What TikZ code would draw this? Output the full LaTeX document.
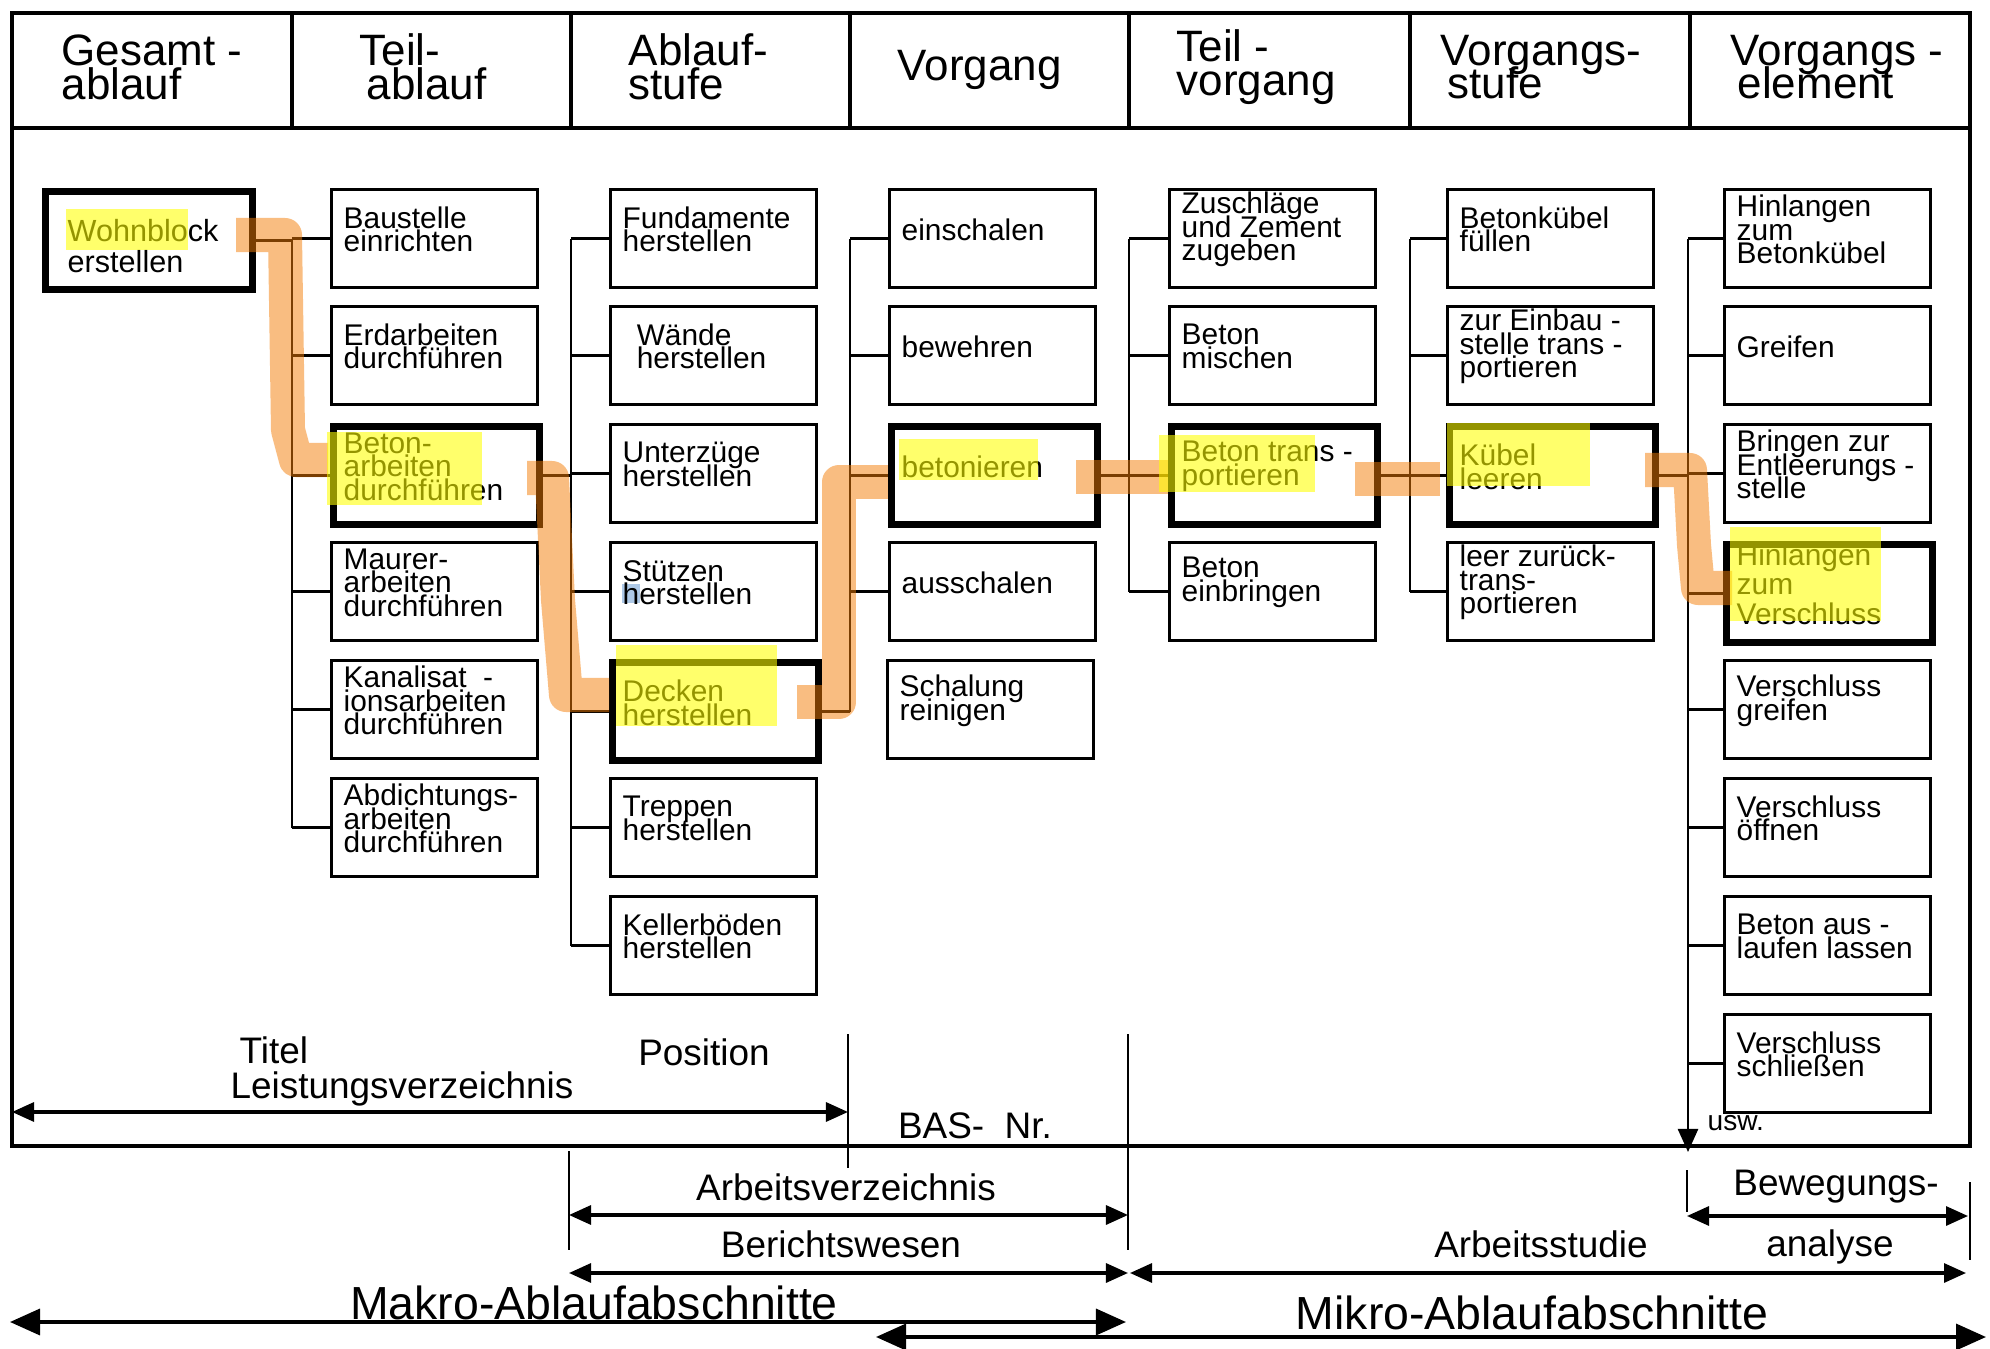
\documentclass[tikz,border=0pt]{standalone}
\usepackage{fontspec}
\setmainfont{Liberation Sans}
\usetikzlibrary{arrows.meta,calc}
\lineskiplimit=-100pt

\definecolor{routeorange}{RGB}{245,125,5}
\definecolor{hiyellow}{RGB}{255,255,0}
\definecolor{selblue}{RGB}{120,165,215}

% one task box with its left-aligned caption
\newcommand\taskbox[5][box]{%
  \node[#1] (#2) at (#3,#4) {};
  \node[btxt] (#2t) at ($(#2.west)+(13,-9)$) {#5};%
}

\begin{document}
\begin{tikzpicture}[x=0.01cm,y=-0.01cm,
  box/.style={draw,line width=0.85pt,minimum width=2.06cm,minimum height=0.98cm,inner sep=0pt,anchor=north west},
  keybox/.style={box,line width=2pt},
  btxt/.style={anchor=west,align=left,inner sep=0pt,font=\fontsize{8.5}{6.7}\selectfont},
  head/.style={anchor=west,align=left,inner sep=0pt,font=\fontsize{12.5}{9.6}\selectfont},
  lbl/.style={inner sep=0pt,font=\fontsize{10.5}{12}\selectfont},
  biglbl/.style={inner sep=0pt,font=\fontsize{13.2}{15}\selectfont},
  frameline/.style={line width=0.9pt},
  conn/.style={line width=0.7pt},
  ruleline/.style={line width=0.8pt},
  dimarrow/.style={line width=0.9pt,>={Triangle[length=2.2mm,width=1.9mm]},<->},
  bigarrow/.style={line width=1pt,>={Triangle[length=3mm,width=2.6mm]},<->},
  route/.style={draw=routeorange,line width=0.34cm,opacity=0.5,line join=round},
  hilite/.style={fill=hiyellow,opacity=0.58},
]
\fill[white] (0,0) rectangle (1990,1349);
\useasboundingbox (0,0) rectangle (1990,1349);

% ---------- frame and header row ----------
\draw[frameline] (12,13) rectangle (1970,1146);
\draw[frameline] (12,128) -- (1970,128);
\foreach \x in {292,571,850,1129,1410,1690}
  \draw[frameline] (\x,13) -- (\x,128);

\node[head] (h1) at (61,67) {Gesamt -\\ablauf};
\node[head] (h2) at (359,67) {Teil-\\\hspace{2pt}ablauf};
\node[head] (h3) at (628,67) {Ablauf-\\stufe};
\node[head] (h4) at (897,70) {Vorgang};
\node[head] (h5) at (1176,67) {Teil -\\vorgang};
\node[head] (h6) at (1440,67) {Vorgangs-\\\hspace{2pt}stufe};
\node[head] (h7) at (1730,67) {Vorgangs -\\\hspace{2pt}element};

% ---------- boxes ----------
\node[keybox,minimum width=2.07cm] (w) at (42,188) {};
\node[anchor=west,align=left,inner sep=0pt,font=\fontsize{8.7}{8.9}\selectfont] (wt) at (67,246) {Wohnblock\\erstellen};

\taskbox{a1}{330}{188}{Baustelle\\einrichten}
\taskbox{a2}{330}{305}{Erdarbeiten\\durchführen}
\taskbox[keybox]{a3}{330}{423}{Beton-\\arbeiten\\durchführen}
\taskbox{a4}{330}{541}{Maurer-\\arbeiten\\durchführen}
\taskbox{a5}{330}{659}{Kanalisat\ \ -\\ionsarbeiten\\durchführen}
\taskbox{a6}{330}{777}{Abdichtungs-\\arbeiten\\durchführen}

\fill[selblue,opacity=0.6] (622,584) rectangle (640,603);
\taskbox{b1}{609}{188}{Fundamente\\herstellen}
\taskbox{b2}{609}{305}{\hspace{4pt}Wände\\\hspace{4pt}herstellen}
\taskbox{b3}{609}{423}{Unterzüge\\herstellen}
\taskbox{b4}{609}{541}{Stützen\\herstellen}
\taskbox[keybox]{b5}{609}{659}{Decken\\herstellen}
\taskbox{b6}{609}{777}{Treppen\\herstellen}
\taskbox{b7}{609}{895}{Kellerböden\\herstellen}

\taskbox{c1}{888}{188}{einschalen}
\taskbox{c2}{888}{305}{bewehren}
\taskbox[keybox]{c3}{888}{423}{betonieren}
\taskbox{c4}{888}{541}{ausschalen}
\taskbox{c5}{886}{659}{Schalung\\reinigen}

\taskbox{d1}{1168}{188}{Zuschläge\\und Zement\\zugeben}
\taskbox{d2}{1168}{305}{Beton\\mischen}
\taskbox[keybox]{d3}{1168}{423}{Beton trans -\\portieren}
\taskbox{d4}{1168}{541}{Beton\\einbringen}

\taskbox{e1}{1446}{188}{Betonkübel\\füllen}
\taskbox{e2}{1446}{305}{zur Einbau -\\stelle trans -\\portieren}
\taskbox[keybox]{e3}{1446}{423}{Kübel\\leeren}
\taskbox{e4}{1446}{541}{leer zurück-\\trans-\\portieren}

\taskbox{f1}{1723}{188}{Hinlangen\\zum\\Betonkübel}
\taskbox{f2}{1723}{305}{Greifen}
\taskbox{f3}{1723}{423}{Bringen zur\\Entleerungs -\\stelle}
\taskbox[keybox]{f4}{1723}{541}{Hinlangen\\[1.5pt]zum\\[2pt]Verschluss}
\taskbox{f5}{1723}{659}{Verschluss\\greifen}
\taskbox{f6}{1723}{777}{Verschluss\\öffnen}
\taskbox{f7}{1723}{895}{Beton aus -\\laufen lassen}
\taskbox{f8}{1723}{1013}{Verschluss\\schließen}

% ---------- tree connectors ----------
\coordinate (bus1) at (292,0);
\coordinate (bus2) at (571,0);
\coordinate (bus3) at (850,0);
\coordinate (bus4) at (1129,0);
\coordinate (bus5) at (1410,0);
\coordinate (bus6) at (1688,0);
\coordinate (busend) at (1688,1152);

\draw[conn] (w.east) -- (w.east -| bus1);
\draw[conn] (a1.west -| bus1) -- (a6.west -| bus1);
\foreach \n in {a1,a2,a3,a4,a5,a6}
  \draw[conn] (\n.west -| bus1) -- (\n.west);

\draw[conn] (a3.east) -- (a3.east -| bus2);
\draw[conn] (b1.west -| bus2) -- (b7.west -| bus2);
\foreach \n in {b1,b2,b3,b4,b5,b6,b7}
  \draw[conn] (\n.west -| bus2) -- (\n.west);

\draw[conn] (b5.east) -- (b5.east -| bus3);
\draw[conn] (c1.west -| bus3) -- (b5.east -| bus3);
\foreach \n in {c1,c2,c3,c4}
  \draw[conn] (\n.west -| bus3) -- (\n.west);

\draw[conn] (c3.east) -- (c3.east -| bus4);
\draw[conn] (d1.west -| bus4) -- (d4.west -| bus4);
\foreach \n in {d1,d2,d3,d4}
  \draw[conn] (\n.west -| bus4) -- (\n.west);

\draw[conn] (d3.east) -- (d3.east -| bus5);
\draw[conn] (e1.west -| bus5) -- (e4.west -| bus5);
\foreach \n in {e1,e2,e3,e4}
  \draw[conn] (\n.west -| bus5) -- (\n.west);

\draw[conn] (e3.east) -- (e3.east -| bus6);
\draw[conn,-{Triangle[length=2.3mm,width=2mm]}] (f1.west -| bus6) -- (busend);
\foreach \n in {f1,f2,f3,f4,f5,f6,f7,f8}
  \draw[conn] (\n.west -| bus6) -- (\n.west);
\node[inner sep=0pt,anchor=west,font=\fontsize{8}{9}\selectfont] (usw) at (1707,1123) {usw.};

% ---------- ranges below the tree ----------
\coordinate (v1t) at (848,1034);  \coordinate (v1b) at (848,1168);
\coordinate (v2t) at (1128,1034); \coordinate (v2b) at (1128,1250);
\coordinate (v3t) at (569,1151);  \coordinate (v3b) at (569,1250);
\coordinate (v4t) at (1687,1170); \coordinate (v4b) at (1687,1212);
\coordinate (v5t) at (1970,1182); \coordinate (v5b) at (1970,1260);
\foreach \v in {v1,v2,v3,v4,v5}
  \draw[ruleline] (\v t) -- (\v b);

\coordinate (lvL) at (12,1112);
\draw[dimarrow] (lvL) -- (lvL -| v1t);
\coordinate (avL) at (569,1215);
\draw[dimarrow] (avL) -- (avL -| v2t);
\coordinate (bwL) at (569,1273);
\draw[dimarrow] (bwL) -- (bwL -| v2t);
\coordinate (asL) at (1130,1273); \coordinate (asR) at (1966,1273);
\draw[dimarrow] (asL) -- (asR);
\coordinate (baL) at (1687,1216); \coordinate (baR) at (1968,1216);
\draw[dimarrow] (baL) -- (baR);
\coordinate (maL) at (10,1322); \coordinate (maR) at (1126,1322);
\draw[bigarrow] (maL) -- (maR);
\coordinate (miL) at (876,1337); \coordinate (miR) at (1986,1337);
\draw[bigarrow] (miL) -- (miR);

\node[lbl,anchor=west] (titel) at (239,1050) {Titel};
\node[lbl] (pos) at (704,1052) {Position};
\node[lbl] (lv) at (402,1089) {Leistungsverzeichnis};
\node[lbl] (bas) at (975,1126) {BAS-\ \ Nr.};
\node[lbl] (av) at (846,1187) {Arbeitsverzeichnis};
\node[lbl] (bw) at (841,1244) {Berichtswesen};
\node[lbl] (as) at (1541,1244) {Arbeitsstudie};
\node[lbl] (bew) at (1836,1187) {Bewegungs-};
\node[lbl] (ana) at (1830,1247) {analyse};
\node[biglbl] (makro) at (594,1303) {Makro-Ablaufabschnitte};
\node[biglbl] (mikro) at (1532,1313) {Mikro-Ablaufabschnitte};

% ---------- marked route through the hierarchy ----------
\draw[route] (236,235) -- (285,235) -- (288,430) -- (296,460) -- (328,460);
\draw[route] (527,478) -- (552,478) -- (558,600) -- (566,695) -- (609,695);
\draw[route] (797,702) -- (839,702) -- (839,482) -- (888,482);
\draw[route] (1076,477) -- (1168,477);
\draw[route] (1355,479) -- (1440,479);
\draw[route] (1645,470) -- (1690,470) -- (1694,545) -- (1698,588) -- (1732,588);

% ---------- highlighted captions ----------
\fill[hilite] (66,209) rectangle (188,250);
\fill[hilite] (327,432) rectangle (482,505);
\fill[hilite] (616,645) rectangle (777,726);
\fill[hilite] (899,439) rectangle (1038,480);
\fill[hilite] (1159,435) rectangle (1315,492);
\fill[hilite] (1447,423) rectangle (1590,486);
\fill[hilite] (1730,527) rectangle (1881,621);
\end{tikzpicture}
\end{document}
